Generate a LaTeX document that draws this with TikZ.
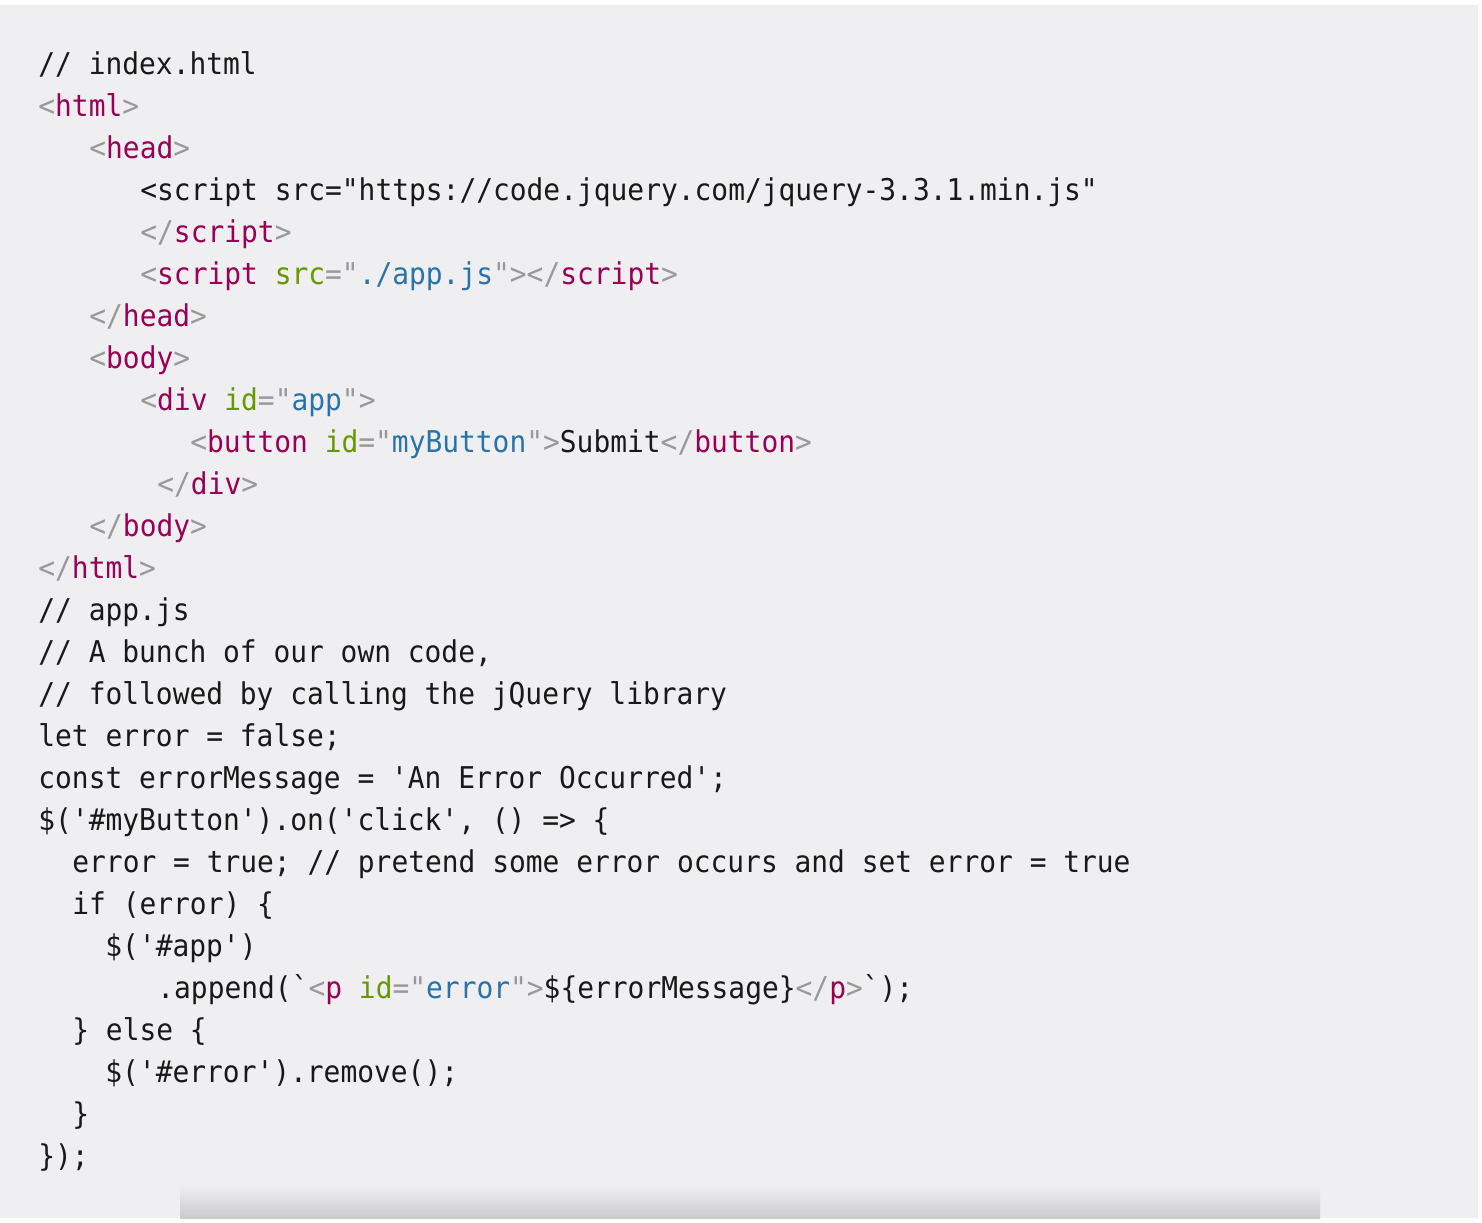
\documentclass[tikz,border=0pt]{standalone}
\usepackage{fontspec}
\setmonofont{DejaVu Sans Mono}[FakeStretch=0.93]
\definecolor{bg}{HTML}{EFEFF1}
\definecolor{ctag}{HTML}{990055}
\definecolor{cpun}{HTML}{999999}
\definecolor{catt}{HTML}{669900}
\definecolor{cval}{HTML}{2A73A8}
\newcommand{\tg}[1]{\textcolor{ctag}{#1}}
\newcommand{\pu}[1]{\textcolor{cpun}{#1}}
\newcommand{\at}[1]{\textcolor{catt}{#1}}
\newcommand{\va}[1]{\textcolor{cval}{#1}}
\tikzset{ln/.style={anchor=base west,inner sep=0pt,font=\ttfamily\fontsize{15}{20}\selectfont,text=black!90}}
\begin{document}
\begin{tikzpicture}[x=0.5pt,y=-0.5pt]
\useasboundingbox (0,0) rectangle (1482,1222);
\fill[white] (0,0) rectangle (1482,1222);
\fill[bg] (0,5) rectangle (1478,1218);
\shade[top color=bg, bottom color=bg!85!black] (180,1185) rectangle (1320,1218);
\node[ln] (l1) at (38,74) {// index.html};
\node[ln] (l2) at (38,116) {\pu{<}\tg{html}\pu{>}};
\node[ln] (l3) at (89,158) {\pu{<}\tg{head}\pu{>}};
\node[ln] (l4) at (140,200) {<script src="https://code.jquery.com/jquery-3.3.1.min.js"};
\node[ln] (l5) at (140,242) {\pu{</}\tg{script}\pu{>}};
\node[ln] (l6) at (140,284) {\pu{<}\tg{script} \at{src}\pu{="}\va{./app.js}\pu{"></}\tg{script}\pu{>}};
\node[ln] (l7) at (89,326) {\pu{</}\tg{head}\pu{>}};
\node[ln] (l8) at (89,368) {\pu{<}\tg{body}\pu{>}};
\node[ln] (l9) at (140,410) {\pu{<}\tg{div} \at{id}\pu{="}\va{app}\pu{">}};
\node[ln] (l10) at (190,452) {\pu{<}\tg{button} \at{id}\pu{="}\va{myButton}\pu{">}Submit\pu{</}\tg{button}\pu{>}};
\node[ln] (l11) at (157,494) {\pu{</}\tg{div}\pu{>}};
\node[ln] (l12) at (89,536) {\pu{</}\tg{body}\pu{>}};
\node[ln] (l13) at (38,578) {\pu{</}\tg{html}\pu{>}};
\node[ln] (l14) at (38,620) {// app.js};
\node[ln] (l15) at (38,662) {// A bunch of our own code,};
\node[ln] (l16) at (38,704) {// followed by calling the jQuery library};
\node[ln] (l17) at (38,746) {let error = false;};
\node[ln] (l18) at (38,788) {const errorMessage = 'An Error Occurred';};
\node[ln] (l19) at (38,830) {\$('\#myButton').on('click', () => \{};
\node[ln] (l20) at (72,872) {error = true; // pretend some error occurs and set error = true};
\node[ln] (l21) at (72,914) {if (error) \{};
\node[ln] (l22) at (105,956) {\$('\#app')};
\node[ln] (l23) at (157,998) {.append(`\pu{<}\tg{p} \at{id}\pu{="}\va{error}\pu{">}\$\{errorMessage\}\pu{</}\tg{p}\pu{>}`);};
\node[ln] (l24) at (72,1040) {\} else \{};
\node[ln] (l25) at (105,1082) {\$('\#error').remove();};
\node[ln] (l26) at (72,1124) {\}};
\node[ln] (l27) at (38,1166) {\});};
\end{tikzpicture}
\end{document}
